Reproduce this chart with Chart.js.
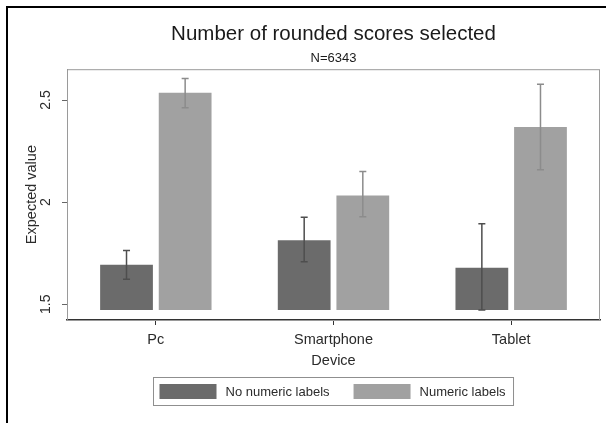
<!DOCTYPE html>
<html>
<head>
<meta charset="utf-8">
<title>Number of rounded scores selected</title>
<script src="https://cdn.jsdelivr.net/npm/chart.js@4.4.0/dist/chart.umd.min.js"></script>
<style>
  body { margin: 0; background: #fff; }
  #wrap { position: relative; width: 606px; height: 423px; overflow: hidden; }
  /* the black frame of the original figure (only top and left visible) */
  #frame { position: absolute; left: 6px; top: 6px; width: 620px; height: 440px;
           border-left: 2px solid #000; border-top: 2px solid #000; }
  #myChart { position: absolute; left: 0; top: 0; }
</style>
</head>
<body>
<div id="wrap">
  <div id="frame"></div>
  <canvas id="myChart" width="606" height="423"></canvas>
</div>

<script>
// values
const devices = ['Pc', 'Smartphone', 'Tablet'];
const seriesNames = ['No numeric labels', 'Numeric labels'];

const noLabels   = [1.693, 1.814, 1.679];
const noLabelsLo = [1.622, 1.708, 1.472];
const noLabelsHi = [1.763, 1.926, 1.894];

const numLabels   = [2.536, 2.033, 2.368];
const numLabelsLo = [2.462, 1.928, 2.159];
const numLabelsHi = [2.606, 2.150, 2.577];

const yTicks = [1.5, 2, 2.5];
const barBase = 1.472;   // bars start slightly under 1.5
const yMin = 1.423;
const yMax = 2.651;

const errLo = [noLabelsLo, numLabelsLo];
const errHi = [noLabelsHi, numLabelsHi];
const errColor = ['#4e4e4e', '#8c8c8c'];

const FONT = '"Liberation Sans", Arial, sans-serif';
const axisFont = { family: FONT, size: 14.5 };
const textColor = '#2b2b2b';

// grey box around the plot region
const plotBox = {
    id: 'plotBox',
    beforeDatasetsDraw(chart) {
        const a = chart.chartArea, ctx = chart.ctx;
        ctx.save();
        ctx.strokeStyle = '#9a9a9a';
        ctx.lineWidth = 1;
        ctx.strokeRect(a.left + 0.5, a.top + 0.5, a.right - a.left - 1, a.bottom - a.top);
        ctx.restore();
    }
};

// confidence interval caps
const errorBars = {
    id: 'errorBars',
    afterDatasetsDraw(chart) {
        const ctx = chart.ctx, y = chart.scales.y;
        chart.data.datasets.forEach((ds, i) => {
            chart.getDatasetMeta(i).data.forEach((bar, j) => {
                const top = y.getPixelForValue(errHi[i][j]);
                const bot = y.getPixelForValue(errLo[i][j]);
                ctx.save();
                ctx.strokeStyle = errColor[i];
                ctx.lineWidth = 1.5;
                ctx.beginPath();
                ctx.moveTo(bar.x, top); ctx.lineTo(bar.x, bot);
                ctx.moveTo(bar.x - 3.5, top); ctx.lineTo(bar.x + 3.5, top);
                ctx.moveTo(bar.x - 3.5, bot); ctx.lineTo(bar.x + 3.5, bot);
                ctx.stroke();
                ctx.restore();
            });
        });
    }
};

// boxed legend under the axis title, centred on the plot
const boxLegend = {
    id: 'boxLegend',
    afterDraw(chart) {
        const ctx = chart.ctx, a = chart.chartArea;
        const sw = 57, sh = 15, gap = 9, sep = 24, padL = 6, padR = 8, h = 28;
        ctx.save();
        ctx.font = '13px ' + FONT;
        const widths = chart.data.datasets.map(d => ctx.measureText(d.label).width);
        let total = padL + padR + sep * (widths.length - 1);
        widths.forEach(w => { total += sw + gap + w; });
        const x0 = Math.round((a.left + a.right) / 2 - total / 2) + 0.5;
        const y0 = Math.round(a.bottom + 57) + 0.5;
        ctx.strokeStyle = '#8f8f8f';
        ctx.lineWidth = 1;
        ctx.strokeRect(x0, y0, total, h);
        let x = x0 + padL;
        chart.data.datasets.forEach((d, i) => {
            ctx.fillStyle = d.backgroundColor;
            ctx.fillRect(x, y0 + 6.5, sw, sh);
            x += sw + gap;
            ctx.fillStyle = textColor;
            ctx.textAlign = 'left';
            ctx.textBaseline = 'middle';
            ctx.fillText(d.label, x, y0 + h / 2 + 0.5);
            x += widths[i] + sep;
        });
        ctx.restore();
    }
};

new Chart(document.getElementById('myChart'), {
    type: 'bar',
    data: {
        labels: devices,
        datasets: [{
            label: seriesNames[0],
            data: noLabels,
            backgroundColor: '#6b6b6b',
            base: barBase,
            borderWidth: 0,
            categoryPercentage: 0.66,
            barPercentage: 0.9
        }, {
            label: seriesNames[1],
            data: numLabels,
            backgroundColor: '#a1a1a1',
            base: barBase,
            borderWidth: 0,
            categoryPercentage: 0.66,
            barPercentage: 0.9
        }]
    },
    options: {
        responsive: false,
        animation: false,
        layout: { padding: { left: 10, right: 6, top: 10, bottom: 53 } },
        plugins: {
            legend: { display: false },
            tooltip: { enabled: false },
            title: {
                display: true,
                fullSize: false,
                text: 'Number of rounded scores selected',
                color: '#1a1a1a',
                font: { family: FONT, size: 20.5, weight: 'normal' },
                padding: { top: 12, bottom: 0 }
            },
            subtitle: {
                display: true,
                fullSize: false,
                text: 'N=6343',
                color: '#1a1a1a',
                font: { family: FONT, size: 13, weight: 'normal' },
                padding: { top: 4, bottom: 3 }
            }
        },
        scales: {
            x: {
                offset: true,
                grid: { offset: false, drawOnChartArea: false, tickLength: 5, color: '#333' },
                border: { color: '#333', width: 1.5 },
                ticks: { padding: 6, font: axisFont, color: textColor },
                title: { display: true, text: 'Device', font: axisFont, color: textColor,
                         padding: { top: 0, bottom: 0 } },
                afterFit: s => { s.height = 50; }
            },
            y: {
                min: yMin,
                max: yMax,
                afterBuildTicks: s => { s.ticks = yTicks.map(v => ({ value: v })); },
                afterFit: s => { s.width = 57; },
                grid: { drawOnChartArea: false, tickLength: 5, color: '#666' },
                border: { color: '#8a8a8a', width: 1 },
                ticks: {
                    minRotation: 90, maxRotation: 90, crossAlign: 'center',
                    padding: 6, font: { family: FONT, size: 14 }, color: textColor,
                    callback: v => String(v)
                },
                title: { display: true, text: 'Expected value', font: axisFont, color: textColor,
                         padding: { top: 13, bottom: 0 } }
            }
        }
    },
    plugins: [plotBox, errorBars, boxLegend]
});
</script>
</body>
</html>
